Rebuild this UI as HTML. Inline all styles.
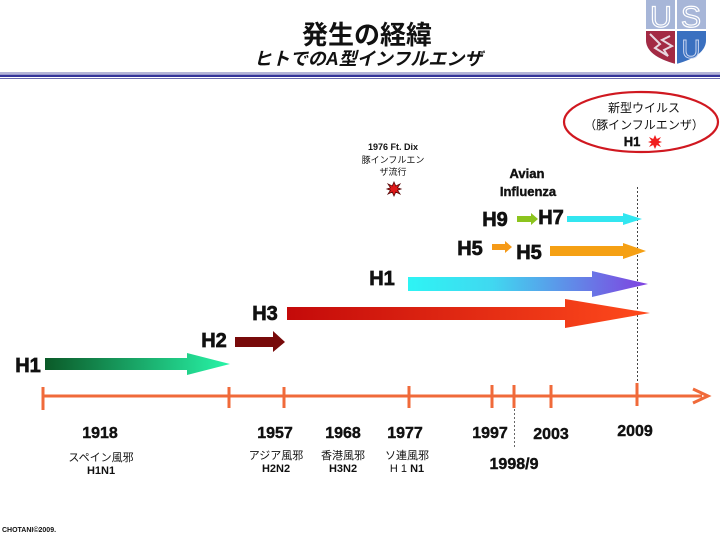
<!DOCTYPE html>
<html><head><meta charset="utf-8">
<style>
html,body{margin:0;padding:0;background:#fff;}
svg{display:block;}
text{font-family:"Liberation Sans","Noto Sans CJK JP",sans-serif;}
.hl{stroke:#111;stroke-width:0.7;}
.yr{stroke:#111;stroke-width:0.4;}
</style></head>
<body>
<svg width="720" height="540" viewBox="0 0 720 540" xmlns="http://www.w3.org/2000/svg">
<defs>
<linearGradient id="gGreen" x1="0" x2="1" y1="0" y2="0"><stop offset="0" stop-color="#0b5a28"/><stop offset="1" stop-color="#28f5a8"/></linearGradient>
<linearGradient id="gRed" x1="0" x2="1" y1="0" y2="0"><stop offset="0" stop-color="#c40a0a"/><stop offset="1" stop-color="#ff4a1c"/></linearGradient>
<linearGradient id="gCyan" x1="0" x2="1" y1="0" y2="0"><stop offset="0" stop-color="#2ef4f4"/><stop offset="0.35" stop-color="#40d8f0"/><stop offset="1" stop-color="#8040e0"/></linearGradient>
</defs>

<!-- Title -->
<text x="367" y="44" font-size="26" font-weight="bold" text-anchor="middle" fill="#111">発生の経緯</text>
<text x="368" y="65" font-size="18" font-weight="bold" font-style="italic" text-anchor="middle" fill="#111">ヒトでのA型インフルエンザ</text>

<!-- Header rule -->
<rect x="0" y="72.5" width="720" height="1" fill="#6a6ab0"/>
<rect x="0" y="74.5" width="720" height="2.5" fill="#34349a"/>
<rect x="0" y="78" width="720" height="1" fill="#6a6ab0"/>

<!-- Logo -->
<g>
<path d="M646 0 H706 V40 Q706 56 676 64 Q646 56 646 40 Z" fill="#a7b6d8"/>
<path d="M646 30 H676 V64 Q646 56 646 40 Z" fill="#a32a44"/>
<path d="M676 30 H706 V40 Q706 56 676 64 Z" fill="#3a70c0"/>
<path d="M650 34 L660 44 L655 48 L668 56 L664 50 L672 46 L662 40 L670 36" fill="none" stroke="#e8d8e0" stroke-width="2"/>
<rect x="675" y="0" width="2" height="64" fill="#fff"/>
<rect x="646" y="29" width="60" height="2" fill="#fff"/>
<text x="661" y="27" font-size="30" text-anchor="middle" fill="#a7b6d8" stroke="#fff" stroke-width="1.2">U</text>
<text x="691" y="27" font-size="30" text-anchor="middle" fill="#a7b6d8" stroke="#fff" stroke-width="1.2">S</text>
<text x="691" y="58" font-size="26" text-anchor="middle" fill="#3a70c0" stroke="#c8d4f0" stroke-width="1">U</text>
</g>

<!-- Ellipse -->
<ellipse cx="641" cy="122" rx="77" ry="30" fill="none" stroke="#d01820" stroke-width="2.2"/>
<text x="644" y="112" font-size="12" text-anchor="middle" fill="#111">新型ウイルス</text>
<text x="644" y="129" font-size="12" text-anchor="middle" fill="#111">（豚インフルエンザ）</text>
<text x="632" y="146" font-size="13" font-weight="bold" text-anchor="middle" fill="#111" class="yr">H1</text>
<g transform="translate(655,142)">
<polygon points="0,-7 1.8,-3 6,-5 3.5,-1.2 7,0 3.5,1.2 6,5 1.8,3 0,7 -1.8,3 -6,5 -3.5,1.2 -7,0 -3.5,-1.2 -6,-5 -1.8,-3" fill="#f02020"/>
</g>

<!-- 1976 Ft Dix -->
<text x="393" y="150" font-size="9" font-weight="bold" text-anchor="middle" fill="#111">1976 Ft. Dix</text>
<text x="393" y="163" font-size="9" text-anchor="middle" fill="#111">豚インフルエン</text>
<text x="393" y="175" font-size="9" text-anchor="middle" fill="#111">ザ流行</text>
<g transform="translate(394,189)">
<polygon points="0,-7 1.8,-3 6,-5 3.5,-1.2 7,0 3.5,1.2 6,5 1.8,3 0,7 -1.8,3 -6,5 -3.5,1.2 -7,0 -3.5,-1.2 -6,-5 -1.8,-3" fill="#e01818" stroke="#5a0a0a" stroke-width="0.8"/>
</g>

<!-- Avian Influenza -->
<text x="527" y="178" font-size="13" font-weight="bold" text-anchor="middle" fill="#111" class="yr">Avian</text>
<text x="528" y="196" font-size="13" font-weight="bold" text-anchor="middle" fill="#111" class="yr">Influenza</text>

<!-- dotted line 2009 -->
<line x1="637.5" y1="187" x2="637.5" y2="396" stroke="#444" stroke-width="1" stroke-dasharray="2,2"/>

<!-- H9 -> H7 -->
<text x="495" y="226" font-size="20" font-weight="bold" text-anchor="middle" fill="#111" class="hl">H9</text>
<polygon points="517,216 531,216 531,213 538,219 531,225 531,222 517,222" fill="#8cc41e"/>
<text x="551" y="224" font-size="20" font-weight="bold" text-anchor="middle" fill="#111" class="hl">H7</text>
<polygon points="567,216 623,216 623,213 642,219 623,225 623,222 567,222" fill="#32e6f0"/>

<!-- H5 -> H5 -->
<text x="470" y="255" font-size="20" font-weight="bold" text-anchor="middle" fill="#111" class="hl">H5</text>
<polygon points="492,244 505,244 505,241 512,247 505,253 505,250 492,250" fill="#f59a18"/>
<text x="529" y="259" font-size="20" font-weight="bold" text-anchor="middle" fill="#111" class="hl">H5</text>
<polygon points="550,246 623,246 623,243 646,251 623,259 623,256 550,256" fill="#f5a014"/>

<!-- H1 (1977) -->
<text x="382" y="285" font-size="20" font-weight="bold" text-anchor="middle" fill="#111" class="hl">H1</text>
<polygon points="408,277 592,277 592,271 648,284 592,297 592,291 408,291" fill="url(#gCyan)"/>

<!-- H3 -->
<text x="265" y="320" font-size="20" font-weight="bold" text-anchor="middle" fill="#111" class="hl">H3</text>
<polygon points="287,307 565,307 565,299 650,313 565,328 565,320 287,320" fill="url(#gRed)"/>

<!-- H2 -->
<text x="214" y="347" font-size="20" font-weight="bold" text-anchor="middle" fill="#111" class="hl">H2</text>
<polygon points="235,337 273,337 273,331 285,342 273,352 273,347 235,347" fill="#780a0a"/>

<!-- H1 1918 -->
<text x="28" y="372" font-size="20" font-weight="bold" text-anchor="middle" fill="#111" class="hl">H1</text>
<polygon points="45,358 187,358 187,353 230,364 187,375 187,370 45,370" fill="url(#gGreen)"/>

<!-- Timeline -->
<g stroke="#f06a3a" fill="none">
<line x1="43" y1="396" x2="702" y2="396" stroke-width="3"/>
<polyline points="693,389 708,396 693,403" stroke-width="3"/>
<line x1="43" y1="387" x2="43" y2="410" stroke-width="3"/>
<line x1="229" y1="387" x2="229" y2="408" stroke-width="3"/>
<line x1="284" y1="387" x2="284" y2="408" stroke-width="3"/>
<line x1="409" y1="386" x2="409" y2="408" stroke-width="3"/>
<line x1="492" y1="385" x2="492" y2="408" stroke-width="3"/>
<line x1="514" y1="385" x2="514" y2="408" stroke-width="3"/>
<line x1="551" y1="385" x2="551" y2="408" stroke-width="3"/>
<line x1="637" y1="383" x2="637" y2="406" stroke-width="3"/>
</g>
<line x1="514.5" y1="409" x2="514.5" y2="448" stroke="#666" stroke-width="1" stroke-dasharray="2,2"/>

<!-- Year labels -->
<g font-size="16" font-weight="bold" text-anchor="middle" fill="#111" class="yr">
<text x="100" y="438">1918</text>
<text x="275" y="438">1957</text>
<text x="343" y="438">1968</text>
<text x="405" y="438">1977</text>
<text x="490" y="438">1997</text>
<text x="551" y="439">2003</text>
<text x="635" y="436">2009</text>
<text x="514" y="469">1998/9</text>
</g>
<g font-size="11" text-anchor="middle" fill="#111">
<text x="101" y="461">スペイン風邪</text>
<text x="276" y="459">アジア風邪</text>
<text x="343" y="459">香港風邪</text>
<text x="407" y="459">ソ連風邪</text>
</g>
<g font-size="11" font-weight="bold" text-anchor="middle" fill="#111">
<text x="101" y="474">H1N1</text>
<text x="276" y="472">H2N2</text>
<text x="343" y="472">H3N2</text>
</g>
<text x="407" y="472" font-size="11" text-anchor="middle" fill="#111">H 1 <tspan font-weight="bold">N1</tspan></text>

<text x="2" y="532" font-size="7" font-weight="bold" fill="#111">CHOTANI©2009.</text>
</svg>
</body></html>
